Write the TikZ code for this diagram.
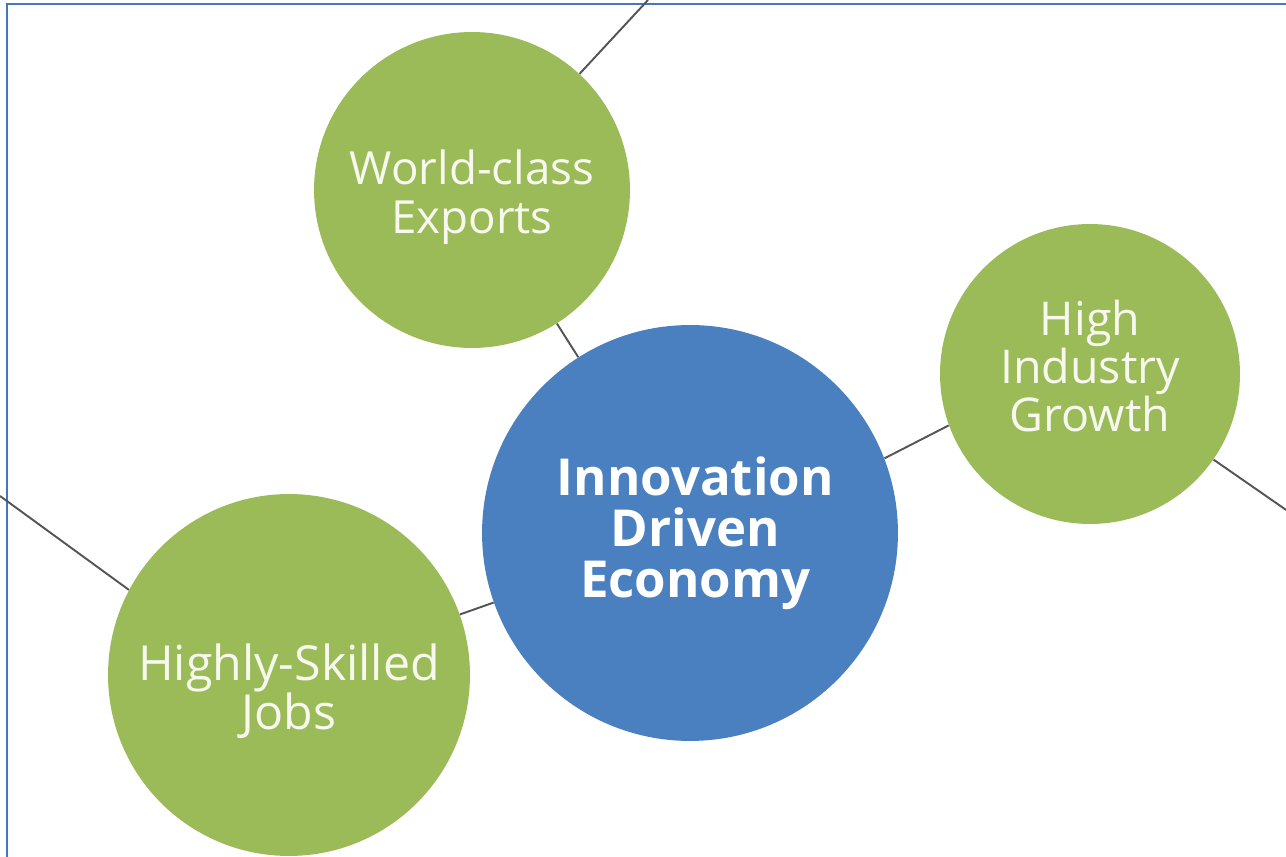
\documentclass[tikz,border=0pt]{standalone}
\usepackage{fontspec}
\setmainfont{Open Sans}
\usetikzlibrary{positioning}
\definecolor{leafgreen}{HTML}{9BBB59}
\definecolor{coreblue}{HTML}{4A80BF}
\definecolor{framecol}{HTML}{4478BD}
\definecolor{linkgray}{HTML}{555555}
\definecolor{palecream}{HTML}{F7F9EE}

\begin{document}
\begin{tikzpicture}[x=0.02cm,y=-0.02cm,
    goal/.style={circle, fill=leafgreen, inner sep=0pt},
    goaltext/.style={text=palecream, align=center, inner sep=0pt,
      font=\fontsize{26}{28}\selectfont},
    core/.style={circle, fill=coreblue, text=white, align=center,
      inner sep=0pt, font=\bfseries\fontsize{29}{29}\selectfont},
    link/.style={draw=linkgray, line width=1.1pt}]
      \useasboundingbox (0,0) rectangle (1286,857);
      \clip (0,0) rectangle (1286,857);
      \draw[framecol, line width=1.4pt] (7,4) rectangle (1330,900);
      \begin{scope}
        \node[core, minimum size=8.32cm] (ec) at (690,533) {};
        \node[core, xshift=3pt] (ect) at (ec) {Innovation\\Driven\\Economy};
        \node[goal, minimum size=6.32cm] (we) at (472,190) {};
        \node[goaltext, yshift=-4pt] (wet) at (we) {World-class\\Exports};
        \node[goal, minimum size=6cm] (hg) at (1090,374) {};
        \node[goaltext, yshift=4.5pt, font=\fontsize{26.5}{27.5}\selectfont] (hgt) at (hg) {High\\Industry\\Growth};
        \node[goal, minimum size=7.24cm] (hs) at (289,675) {};
        \node[goaltext, yshift=-9pt, font=\fontsize{27.5}{28}\selectfont] (hst) at (hs) {Highly-Skilled\\Jobs};
        \coordinate (topend) at (648,0);
        \coordinate (rgtend) at (1292,514);
        \coordinate (lftend) at (0,496);
        \draw[link] (we) -- (topend);
        \draw[link] (we) -- (ec);
        \draw[link] (ec.21) -- (hg.200);
        \draw[link] (hg) -- (rgtend);
        \draw[link] (ec) -- (hs);
        \draw[link] (hs.152) -- (lftend);
      \end{scope}
    \end{tikzpicture}
\end{document}
